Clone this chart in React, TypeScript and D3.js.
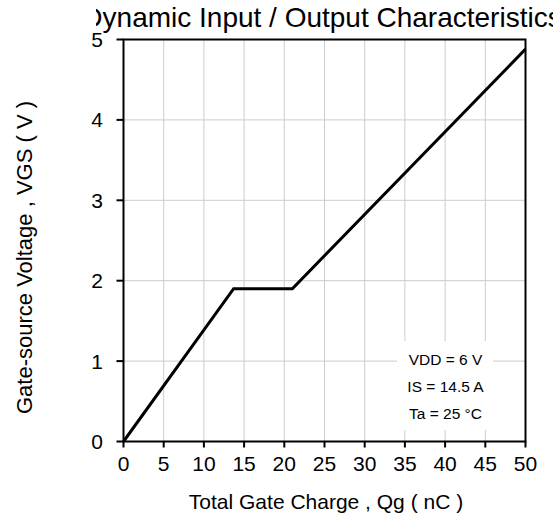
import React from "react";
import * as d3 from "d3";

const qg: number[] = [0, 13.7, 21.0, 50];
const vgs: number[] = [0, 1.9, 1.9, 4.88];
const xTicks: number[] = [0, 5, 10, 15, 20, 25, 30, 35, 40, 45, 50];
const yTicks: number[] = [0, 1, 2, 3, 4, 5];
const notes: string[] = ["VDD = 6 V", "IS = 14.5 A", "Ta = 25 \u00B0C"];
const title = "Dynamic Input / Output Characteristics";
const xLabel = "Total Gate Charge , Qg ( nC )";
const yLabel = "Gate-source Voltage , VGS ( V )";

const W = 553, H = 517;
const L = 123.5, R = 525.5, T = 39.5, B = 441.5;
const FONT = "'Liberation Sans', Arial, Helvetica, sans-serif";

export default function App() {
  const x = d3.scaleLinear().domain([0, 50]).range([L, R]);
  const y = d3.scaleLinear().domain([0, 5]).range([B, T]);
  const pts: [number, number][] = qg.map((q, i) => [q, vgs[i]]);
  const line = d3.line<[number, number]>().x(d => x(d[0])).y(d => y(d[1]));
  return (
    <div style={{ position: "fixed", left: 0, top: 0 }}>
      <svg width={W} height={H} style={{ display: "block", background: "#fff" }} fontFamily={FONT}>
        <defs>
          <clipPath id="titleClip">
            <rect x={96} y={0} width={W - 96} height={36} />
          </clipPath>
        </defs>
        {xTicks.map(t => (
          <line key={"gx" + t} x1={x(t)} x2={x(t)} y1={T} y2={B} stroke="#cccccc" strokeWidth={1} />
        ))}
        {yTicks.map(t => (
          <line key={"gy" + t} x1={L} x2={R} y1={y(t)} y2={y(t)} stroke="#cccccc" strokeWidth={1} />
        ))}
        <rect x={397} y={341} width={96} height={89} fill="#fff" />
        {notes.map((n, i) => (
          <text key={n} x={445.5} y={365 + i * 27} fontSize={15.5} textAnchor="middle" fill="#000">{n}</text>
        ))}
        <path d={line(pts) || ""} fill="none" stroke="#000" strokeWidth={3} strokeLinejoin="miter" />
        <rect x={L} y={T} width={R - L} height={B - T} fill="none" stroke="#000" strokeWidth={2} />
        {xTicks.map(t => (
          <g key={"xt" + t}>
            <line x1={x(t)} x2={x(t)} y1={B} y2={B + 6} stroke="#000" strokeWidth={2} />
            <text x={x(t)} y={471} fontSize={21} textAnchor="middle" fill="#000">{t}</text>
          </g>
        ))}
        {yTicks.map(t => (
          <g key={"yt" + t}>
            <line x1={L - 7} x2={L} y1={y(t)} y2={y(t)} stroke="#000" strokeWidth={2} />
            <text x={103} y={y(t) + 7.5} fontSize={21} textAnchor="end" fill="#000">{t}</text>
          </g>
        ))}
        <g clipPath="url(#titleClip)">
          <text x={322} y={27} fontSize={28} textAnchor="middle" fill="#000">{title}</text>
        </g>
        <text x={326} y={509} fontSize={21} textAnchor="middle" fill="#000">{xLabel}</text>
        <text transform={`translate(32,257.5) rotate(-90)`} fontSize={22} textAnchor="middle" fill="#000">{yLabel}</text>
      </svg>
    </div>
  );
}
